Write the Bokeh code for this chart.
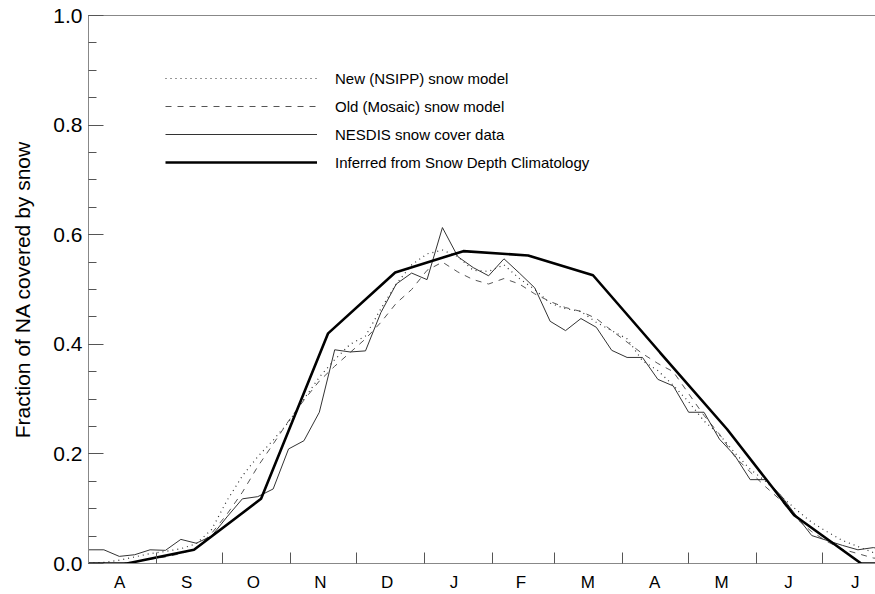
from bokeh.plotting import figure
from bokeh.models import (Range1d, FixedTicker, LinearAxis, Legend, LegendItem,
                          PrintfTickFormatter)
from bokeh.embed import file_html
from bokeh.resources import INLINE

# ---------------- data ----------------
months = ["A", "S", "O", "N", "D", "J", "F", "M", "A", "M", "J", "J"]
month_len = [31, 30, 31, 30, 31, 31, 28, 31, 30, 31, 30, 31]

# weekly series (day of year counted from 1 August)
week_day = [0, 7, 14, 21, 28, 35, 42, 49, 56, 63, 70, 77, 84, 91, 98, 105, 112,
            119, 126, 133, 140, 147, 154, 161, 168, 175, 182, 189, 196, 203, 210,
            217, 224, 231, 238, 245, 252, 259, 266, 273, 280, 287, 294, 301, 308,
            315, 322, 329, 336, 343, 350, 357, 364]

nsipp = [0.0, 0.002, 0.006, 0.012, 0.018, 0.022, 0.027, 0.036, 0.062, 0.115,
         0.16, 0.195, 0.225, 0.258, 0.30, 0.34, 0.372, 0.40, 0.415, 0.465,
         0.51, 0.545, 0.565, 0.572, 0.56, 0.535, 0.533, 0.545, 0.52, 0.50,
         0.475, 0.465, 0.46, 0.44, 0.425, 0.41, 0.37, 0.352, 0.325, 0.295,
         0.26, 0.235, 0.202, 0.172, 0.15, 0.123, 0.098, 0.075, 0.058, 0.042,
         0.031, 0.02, 0.015]

mosaic = [0.0, 0.0, 0.0, 0.003, 0.008, 0.012, 0.018, 0.028, 0.055, 0.09,
          0.13, 0.177, 0.218, 0.26, 0.298, 0.333, 0.36, 0.385, 0.41, 0.44,
          0.475, 0.50, 0.535, 0.55, 0.532, 0.518, 0.51, 0.52, 0.51, 0.492,
          0.478, 0.467, 0.46, 0.447, 0.425, 0.404, 0.383, 0.365, 0.35, 0.31,
          0.27, 0.236, 0.195, 0.167, 0.14, 0.115, 0.082, 0.058, 0.04, 0.026,
          0.018, 0.01, 0.008]

nesdis = [0.025, 0.025, 0.013, 0.016, 0.025, 0.024, 0.044, 0.037, 0.05, 0.085,
          0.118, 0.122, 0.136, 0.209, 0.224, 0.276, 0.39, 0.386, 0.388, 0.458,
          0.51, 0.53, 0.518, 0.613, 0.56, 0.54, 0.525, 0.556, 0.53, 0.503,
          0.442, 0.425, 0.447, 0.431, 0.389, 0.376, 0.376, 0.336, 0.324, 0.276,
          0.276, 0.227, 0.197, 0.153, 0.153, 0.124, 0.087, 0.051, 0.042, 0.033,
          0.025, 0.029, 0.024]

# monthly climatology (mid-month points)
clim_day = [-15.5, 17.5, 48, 78.5, 109, 139.5, 170.5, 200, 229.5, 260, 290.5,
            321, 351.5, 382]
clim = [0.0, 0.0, 0.025, 0.118, 0.42, 0.531, 0.570, 0.562, 0.526, 0.385,
        0.245, 0.088, 0.0, 0.0]

names = ["New (NSIPP) snow model", "Old (Mosaic) snow model",
         "NESDIS snow cover data", "Inferred from Snow Depth Climatology"]

# ---------------- figure ----------------
FONT = "Liberation Sans"
p = figure(width=875, height=594, output_backend="svg", toolbar_location=None,
           x_range=Range1d(0, 358), y_range=Range1d(0, 1.0),
           min_border_left=88, min_border_right=0, min_border_top=15,
           min_border_bottom=29, x_axis_type=None, y_axis_type=None,
           background_fill_color="white", border_fill_color="white")
p.grid.visible = False
p.outline_line_color = None

# month boundaries (ticks) and equally spaced label positions
bounds = [0]
for m in month_len:
    bounds.append(bounds[-1] + m)
label_pos = [(i + 0.5) * bounds[-1] / 12.0 - 1.0 for i in range(12)]

xaxis = LinearAxis(ticker=FixedTicker(ticks=label_pos, minor_ticks=bounds))
xaxis.major_label_overrides = {m: lab for m, lab in zip(label_pos, months)}
xaxis.major_tick_in = 0
xaxis.major_tick_out = 0
xaxis.minor_tick_in = 11
xaxis.minor_tick_out = 0
xaxis.minor_tick_line_color = "#555555"
xaxis.axis_line_color = "#888888"
xaxis.major_label_text_font = FONT
xaxis.major_label_text_font_size = "17px"
xaxis.major_label_text_color = "black"
xaxis.major_label_standoff = 9
p.add_layout(xaxis, "below")

yaxis = LinearAxis(ticker=FixedTicker(ticks=[0, 0.2, 0.4, 0.6, 0.8, 1.0],
                                      minor_ticks=[i * 0.05 for i in range(21)]))
yaxis.formatter = PrintfTickFormatter(format="%.1f")
yaxis.major_tick_in = 15
yaxis.major_tick_out = 0
yaxis.minor_tick_in = 8
yaxis.minor_tick_out = 0
yaxis.major_tick_line_color = "#555555"
yaxis.minor_tick_line_color = "#555555"
yaxis.axis_line_color = "#888888"
yaxis.major_label_text_font = FONT
yaxis.major_label_text_font_size = "21px"
yaxis.major_label_text_color = "black"
yaxis.major_label_standoff = 6
yaxis.axis_label = "Fraction of NA covered by snow"
yaxis.axis_label_text_font = FONT
yaxis.axis_label_text_font_size = "21px"
yaxis.axis_label_text_font_style = "normal"
yaxis.axis_label_text_color = "black"
yaxis.axis_label_standoff = 16
p.add_layout(yaxis, "left")

top = LinearAxis(ticker=FixedTicker(ticks=[]))
top.axis_line_color = "#888888"
top.major_label_text_font_size = "0px"
top.major_tick_in = 0
top.major_tick_out = 0
top.minor_tick_in = 0
top.minor_tick_out = 0
p.add_layout(top, "above")

r1 = p.line(week_day, nsipp, line_color="#333333", line_width=1.2,
            line_dash="1 4")
r2 = p.line(week_day, mosaic, line_color="#555555", line_width=1.0,
            line_dash="6 6")
r3 = p.line(week_day, nesdis, line_color="#333333", line_width=1.0)
r4 = p.line(clim_day, clim, line_color="black", line_width=2.6)

legend = Legend(items=[LegendItem(label=n, renderers=[r])
                       for n, r in zip(names, [r1, r2, r3, r4])],
                location=(77, 391), orientation="vertical",
                glyph_width=152, glyph_height=20, label_height=20,
                label_width=10, spacing=8, padding=0, margin=0,
                label_standoff=18, border_line_color=None,
                background_fill_alpha=0, label_text_font=FONT,
                label_text_font_size="15px", label_text_color="black")
p.add_layout(legend, "center")

open("out.html", "w").write(file_html(p, INLINE))
